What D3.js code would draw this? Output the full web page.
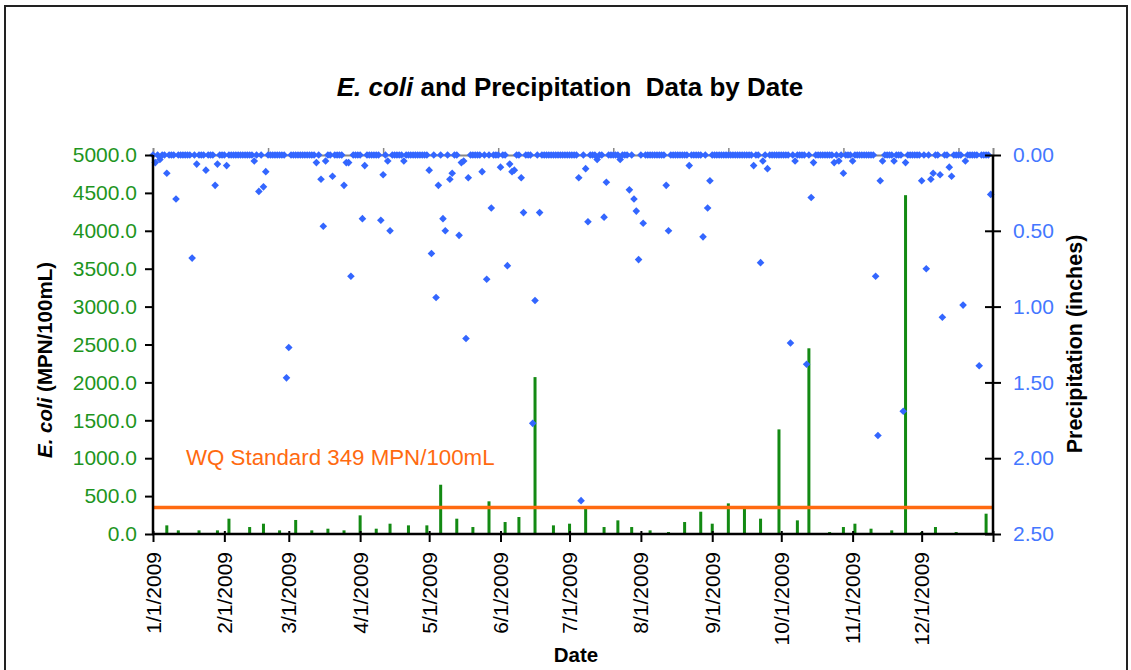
<!DOCTYPE html>
<html>
<head>
<meta charset="utf-8">
<script src="https://cdn.jsdelivr.net/npm/d3@7"></script>
<style>
  html, body { margin: 0; padding: 0; background: #fff; }
  svg { display: block; font-family: "Liberation Sans", Arial, sans-serif; }
</style>
</head>
<body>
<svg id="chart" width="1131" height="670"></svg>
<script>
// ---------------- DATA ----------------
const ecoliDates = [
  "2009-01-07","2009-01-12","2009-01-21","2009-01-29","2009-02-03","2009-02-12","2009-02-18","2009-02-25",
  "2009-03-04","2009-03-11","2009-03-18","2009-03-25","2009-04-01","2009-04-08","2009-04-14","2009-04-22",
  "2009-04-30","2009-05-06","2009-05-13","2009-05-20","2009-05-27","2009-06-03","2009-06-09","2009-06-16",
  "2009-06-24","2009-07-01","2009-07-08","2009-07-16","2009-07-22","2009-07-28","2009-08-05","2009-08-13",
  "2009-08-20","2009-08-27","2009-09-01","2009-09-08","2009-09-15","2009-09-22","2009-09-30","2009-10-08",
  "2009-10-13","2009-10-22","2009-10-28","2009-11-02","2009-11-09","2009-11-18","2009-11-24","2009-12-01",
  "2009-12-07","2009-12-16","2009-12-29"
];
const ecoliValues = [
  114, 48, 48, 48, 202, 92, 136, 48,
  185, 48, 70, 48, 246, 70, 136, 114,
  114, 650, 202, 92, 431, 158, 224, 2070,
  114, 136, 343, 92, 180, 92, 48, 26,
  158, 294, 136, 404, 360, 202, 1380, 180,
  2450, 26, 92, 136, 70, 48, 4470, 26,
  92, 26, 268
];

// Daily precipitation (inches), one value per day of each month of 2009
const precipJan = [0,0.05,0,0.03,0,0,0.12,0,0,0,0.29,0,0,0,0,0,0,0.68,0,0.06,0,0,0,0.10,0,0,0,0.20,0.06,0,0];
const precipFeb = [0,0.07,0,0,0,0,0,0,0,0,0,0,0,0.04,0,0.24,0,0.21,0.11,0,0,0,0,0,0,0,0,1.47];
const precipMar = [1.27,0,0,0,0,0,0,0,0,0,0,0,0.05,0,0.16,0.47,0.04,0,0,0.14,0,0,0,0,0.20,0.05,0.05,0.80,0,0,0];
const precipApr = [0,0.42,0.07,0,0,0,0,0,0,0.43,0.13,0,0.04,0.50,0,0,0,0,0,0.04,0,0,0,0,0,0,0,0,0,0];
const precipMay = [0.10,0.65,0,0.94,0.20,0,0.42,0.50,0,0.16,0.12,0,0,0.53,0.05,0.04,1.21,0.15,0,0,0,0,0,0.11,0,0.82,0,0.35,0,0,0];
const precipJun = [0.08,0,0,0.73,0.06,0.11,0.10,0,0,0.15,0.38,0,0,0,1.77,0.96,0,0.38,0,0,0,0,0,0,0,0,0,0,0,0];
const precipJul = [0,0,0,0,0.15,2.28,0,0.09,0.44,0,0,0,0.03,0,0,0.41,0.18,0,0,0,0,0,0.03,0,0,0,0.23,0,0.29,0.37,0.69];
const precipAug = [0,0.45,0,0,0,0,0,0,0,0,0,0.20,0.50,0,0,0,0,0,0,0,0,0.07,0,0,0,0,0,0.54,0,0.35,0.17];
const precipSep = [0,0,0,0,0,0,0,0,0,0,0,0,0,0,0,0,0,0,0.07,0,0,0.71,0.04,0,0.09,0,0,0,0,0];
const precipOct = [0,0,0,0,1.24,0,0.04,0,0,0,0,1.38,0,0.28,0.05,0,0,0,0,0,0,0,0,0.05,0,0.04,0,0.12,0,0,0];
const precipNov = [0.04,0,0,0,0,0,0,0,0,0,0.80,1.85,0.17,0.04,0,0,0,0,0.04,0,0,0,1.69,0.05,0,0,0,0,0,0];
const precipDec = [0.17,0,0.75,0,0.16,0.12,0,0,0.13,1.07,0,0,0.08,0.14,0,0,0,0,0.99,0.04,0,0,0,0,0,1.39,0,0,0,0,0.26];

const leftTicks = [0, 500, 1000, 1500, 2000, 2500, 3000, 3500, 4000, 4500, 5000];
const rightTicks = [0, 0.5, 1.0, 1.5, 2.0, 2.5];
const wqStandard = 349;
const titleParts = [{t: "E. coli", italic: true}, {t: " and Precipitation  Data by Date", italic: false}];

// ---------------- LAYOUT ----------------
const svg = d3.select("#chart");
const L = 153, R = 993, T = 155, B = 534;
const parse = d3.timeParse("%Y-%m-%d");
const start = parse("2009-01-01"), end = parse("2010-01-01");

const x = d3.scaleTime().domain([start, end]).range([L, R]);
const yL = d3.scaleLinear().domain([0, 5000]).range([B, T]);
const yR = d3.scaleLinear().domain([0, 2.5]).range([T, B]);

const green = "#138a13";
const greenText = "#1e951e";
const blue = "#3366ff";
const blueText = "#4477ff";
const orange = "#ff6a10";

// outer frame
svg.append("rect").attr("x", 5).attr("y", 6).attr("width", 1122).attr("height", 700)
  .attr("fill", "none").attr("stroke", "#222").attr("stroke-width", 2);

// title
const title = svg.append("text").attr("x", 570).attr("y", 96).attr("text-anchor", "middle")
  .attr("font-size", 26).attr("font-weight", "bold").attr("fill", "#000")
  .style("white-space", "pre");
titleParts.forEach(p => title.append("tspan").attr("font-style", p.italic ? "italic" : "normal").text(p.t));

// top gray line + ticks (secondary x axis)
const topTicks = [50, 100, 150, 200, 250, 300, 350].map(d => d3.timeDay.offset(start, d));
const topAxis = d3.axisTop(x).tickValues(topTicks).tickSize(7).tickFormat("");
const gTop = svg.append("g").attr("transform", `translate(0,${T})`).call(topAxis);
gTop.select(".domain").attr("stroke", "#888").attr("stroke-width", 2);
gTop.selectAll(".tick line").attr("stroke", "#888").attr("stroke-width", 1.5);

// E. coli bars
const ecoli = ecoliDates.map((d, i) => ({date: parse(d), v: ecoliValues[i]}));
svg.append("g").selectAll("rect").data(ecoli).join("rect")
  .attr("x", d => x(d.date) - 1.5)
  .attr("width", 3)
  .attr("y", d => yL(d.v))
  .attr("height", d => B - yL(d.v))
  .attr("fill", green);

// WQ standard line
svg.append("line").attr("x1", L).attr("x2", R).attr("y1", yL(wqStandard)).attr("y2", yL(wqStandard))
  .attr("stroke", orange).attr("stroke-width", 3.5);
svg.append("text").attr("x", 186).attr("y", 465).attr("font-size", 22.3).attr("fill", orange)
  .text("WQ Standard " + wqStandard + " MPN/100mL");

// precipitation diamonds
const precipValues = [].concat(precipJan, precipFeb, precipMar, precipApr, precipMay, precipJun,
                               precipJul, precipAug, precipSep, precipOct, precipNov, precipDec);
const days = d3.timeDay.range(start, end);
const precip = days.map((d, i) => ({date: d, v: precipValues[i]}));
const diamond = d3.symbol(d3.symbolSquare, 29);
svg.append("g").selectAll("path").data(precip).join("path")
  .attr("d", diamond)
  .attr("transform", d => `translate(${x(d.date)},${yR(d.v)}) rotate(45)`)
  .attr("fill", blue);

// left axis
const axL = d3.axisLeft(yL).tickValues(leftTicks).tickFormat(d3.format(".1f")).tickSize(8).tickPadding(8);
const gL = svg.append("g").attr("transform", `translate(${L},0)`).call(axL);
gL.select(".domain").remove();
gL.selectAll(".tick line").attr("stroke", "#000").attr("stroke-width", 2);
gL.selectAll(".tick text").attr("font-size", 21).attr("fill", greenText).attr("font-family", "Liberation Sans, Arial, sans-serif");
svg.append("line").attr("x1", L).attr("x2", L).attr("y1", T).attr("y2", B + 1).attr("stroke", "#000").attr("stroke-width", 2.5);

// right axis
const axR = d3.axisRight(yR).tickValues(rightTicks).tickFormat(d3.format(".2f")).tickSize(8).tickPadding(12);
const gR = svg.append("g").attr("transform", `translate(${R},0)`).call(axR);
gR.select(".domain").remove();
gR.selectAll(".tick line").attr("x1", -8).attr("stroke", "#000").attr("stroke-width", 2);
gR.selectAll(".tick text").attr("font-size", 21).attr("fill", blueText).attr("font-family", "Liberation Sans, Arial, sans-serif");
svg.append("line").attr("x1", R).attr("x2", R).attr("y1", T).attr("y2", B + 1).attr("stroke", "#000").attr("stroke-width", 2.5);

// bottom axis
const monthTicks = d3.timeMonth.range(start, d3.timeDay.offset(end, 1));
const axB = d3.axisBottom(x).tickValues(monthTicks).tickSize(8).tickFormat("");
const gB = svg.append("g").attr("transform", `translate(0,${B})`).call(axB);
gB.select(".domain").remove();
gB.selectAll(".tick line").attr("y1", -3).attr("stroke", "#000").attr("stroke-width", 2);
svg.append("line").attr("x1", L - 1).attr("x2", R + 1).attr("y1", B).attr("y2", B).attr("stroke", "#000").attr("stroke-width", 2.5);

const fmt = d3.timeFormat("%-m/%-d/%Y");
svg.append("g").selectAll("text").data(monthTicks.filter(d => d < end)).join("text")
  .attr("transform", d => `translate(${x(d)},${B + 18}) rotate(-90)`)
  .attr("text-anchor", "end")
  .attr("dy", "0.36em")
  .attr("font-size", 21)
  .attr("fill", "#000")
  .text(d => fmt(d));

// axis titles
svg.append("text").attr("x", 576).attr("y", 662).attr("text-anchor", "middle")
  .attr("font-size", 20.5).attr("font-weight", "bold").text("Date");

const lt = svg.append("text").attr("transform", "translate(52,360) rotate(-90)").attr("text-anchor", "middle")
  .attr("font-size", 20.5).attr("font-weight", "bold");
lt.append("tspan").attr("font-style", "italic").text("E. coli");
lt.append("tspan").text(" (MPN/100mL)");

svg.append("text").attr("transform", "translate(1082,344) rotate(-90)").attr("text-anchor", "middle")
  .attr("font-size", 21.5).attr("font-weight", "bold").text("Precipitation (inches)");
</script>
</body>
</html>
